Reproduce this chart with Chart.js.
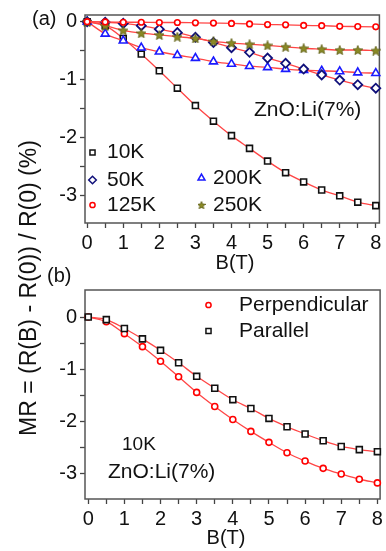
<!DOCTYPE html>
<html>
<head>
<meta charset="utf-8">
<script src="https://cdn.jsdelivr.net/npm/chart.js@4.4.1/dist/chart.umd.min.js"></script>
<style>
body{margin:0;background:#fff;width:386px;height:551px;overflow:hidden;position:relative;font-family:"Liberation Sans",Arial,sans-serif}
canvas{position:absolute;left:0}
#cA{top:0}
#cB{top:275px}
.lbl{position:absolute;color:#111;white-space:nowrap;line-height:1}
#ytitle{left:28px;top:288px;font-size:23px;transform:translate(-50%,-50%) rotate(-90deg)}
</style>
</head>
<body>

<canvas id="cA" width="386" height="275"></canvas>
<canvas id="cB" width="386" height="276"></canvas>

<div class="lbl" id="ytitle">MR = (R(B) - R(0)) / R(0) (%)</div>
<div class="lbl" style="left:32px;top:8px;font-size:20px">(a)</div>
<div class="lbl" style="left:47px;top:265px;font-size:20px">(b)</div>

<script>

/* ---------------- DATA ---------------- */

const fieldT = [0,0.5,1,1.5,2,2.5,3,3.5,4,4.5,5,5.5,6,6.5,7,7.5,8]

const mr10K  = [0,-0.07,-0.29,-0.56,-0.85,-1.15,-1.45,-1.72,-1.97,-2.19,-2.41,-2.61,-2.77,-2.91,-3.01,-3.12,-3.18]
const mr50K  = [0,-0.01,-0.03,-0.07,-0.13,-0.19,-0.27,-0.36,-0.45,-0.53,-0.63,-0.72,-0.82,-0.92,-1.01,-1.09,-1.15]
const mr125K = [0,-0.005,-0.01,-0.01,-0.015,-0.015,-0.02,-0.025,-0.03,-0.04,-0.05,-0.055,-0.065,-0.07,-0.08,-0.085,-0.09]
const mr200K = [0,-0.21,-0.33,-0.45,-0.52,-0.58,-0.63,-0.69,-0.73,-0.77,-0.79,-0.82,-0.84,-0.85,-0.86,-0.88,-0.89]
const mr250K = [0,-0.07,-0.15,-0.2,-0.23,-0.26,-0.29,-0.34,-0.37,-0.39,-0.41,-0.435,-0.46,-0.475,-0.49,-0.49,-0.5]

const mrPerp = [0,-0.09,-0.32,-0.57,-0.85,-1.15,-1.45,-1.72,-1.97,-2.2,-2.41,-2.61,-2.77,-2.91,-3.02,-3.12,-3.19]
const mrPar  = [0,-0.05,-0.22,-0.42,-0.64,-0.88,-1.14,-1.37,-1.59,-1.76,-1.95,-2.11,-2.25,-2.38,-2.49,-2.55,-2.59]

const xTicks = [0,0.5,1,1.5,2,2.5,3,3.5,4,4.5,5,5.5,6,6.5,7,7.5,8]
const yTicks = [-3,-2.5,-2,-1.5,-1,-0.5,0]

const FONT = "'Liberation Sans', Arial, sans-serif"
const FIT_RED = "#ff4545"

/* ---------------- STAR MARKER ---------------- */

function makeStar(size,color){
const c=document.createElement("canvas")
c.width=size; c.height=size
const g=c.getContext("2d")
const cx=size/2, cy=size/2+0.5, R=size/2, r=R*0.45
g.beginPath()
for(let i=0;i<10;i++){
const a=-Math.PI/2+i*Math.PI/5
const rr=i%2?r:R
g.lineTo(cx+rr*Math.cos(a),cy+rr*Math.sin(a))
}
g.closePath()
g.fillStyle=color
g.fill()
g.strokeStyle="#5a5a10"
g.lineWidth=0.8
g.stroke()
return c
}

const star = makeStar(10,"#8a8a25")
const starSmall = makeStar(8,"#8a8a25")

/* ---------------- HELPERS ---------------- */

function series(values,style){
return Object.assign({
data:fieldT.map((t,i)=>({x:t,y:values[i]})),
showLine:true,
borderColor:FIT_RED,
borderWidth:1.3,
cubicInterpolationMode:"monotone",
pointBackgroundColor:"#fff",
pointBorderWidth:1.6,
clip:false
},style)
}

function scales(xmin,xmax,ymin,ymax,yWidth,xHeight){
const common={
grid:{drawOnChartArea:false,drawTicks:true,tickLength:5,tickColor:"#444",tickWidth:1.3},
border:{display:false},
ticks:{
color:"#111",
font:{family:FONT,size:20},
padding:3,
autoSkip:false,
maxRotation:0,
callback:v=>Number.isInteger(v)?String(v):""
}
}
return {
x:Object.assign({},common,{
type:"linear",min:xmin,max:xmax,
afterBuildTicks:s=>{s.ticks=xTicks.map(v=>({value:v}))},
afterFit:s=>{s.height=xHeight}
}),
y:Object.assign({},common,{
type:"linear",min:ymin,max:ymax,
afterBuildTicks:s=>{s.ticks=yTicks.map(v=>({value:v}))},
afterFit:s=>{s.width=yWidth}
})
}
}

/* frame + texts + legend drawn on the canvas */
function decor(items,notes){
return {
id:"decor",
beforeDatasetsDraw(chart){
const {ctx,chartArea:a}=chart
ctx.save()
ctx.strokeStyle="#555"
ctx.lineWidth=1.5
ctx.strokeRect(a.left,a.top,a.right-a.left,a.bottom-a.top)
ctx.restore()
},
afterDraw(chart){
const ctx=chart.ctx
ctx.save()
items.forEach(it=>{
ctx.strokeStyle=it.color
ctx.fillStyle=it.fill||"#fff"
ctx.lineWidth=1.5
Chart.helpers.drawPoint(ctx,{pointStyle:it.style,radius:it.r,borderWidth:1.5,rotation:0},it.mx,it.my)
ctx.fillStyle="#111"
ctx.font=it.size+"px "+FONT
ctx.textBaseline="middle"
ctx.textAlign="left"
ctx.fillText(it.text,it.tx,it.my)
})
notes.forEach(n=>{
ctx.fillStyle="#111"
ctx.font=n.size+"px "+FONT
ctx.textBaseline="middle"
ctx.textAlign=n.align||"left"
ctx.fillText(n.text,n.x,n.y)
})
ctx.restore()
}
}
}

/* ---------------- PANEL (a) ---------------- */

new Chart(document.getElementById("cA"),{
type:"scatter",
data:{
datasets:[
series(mr125K,{label:"125K",pointStyle:"circle",pointRadius:2.8,pointBorderColor:"#ff0000"}),
series(mr250K,{label:"250K",pointStyle:star,pointRadius:5}),
series(mr50K,{label:"50K",pointStyle:"rectRot",pointRadius:4.5,pointBorderColor:"#10107a",pointBorderWidth:1.8}),
series(mr200K,{label:"200K",pointStyle:"triangle",pointRadius:4.6,pointBorderColor:"#1a1aff"}),
series(mr10K,{label:"10K",pointStyle:"rect",pointRadius:4.2,pointBorderColor:"#111"})
]
},
options:{
responsive:false,
animation:false,
layout:{padding:{top:14,right:3,left:0,bottom:0}},
plugins:{legend:{display:false},tooltip:{enabled:false}},
scales:scales(-0.06,8.1,-3.48,0.115,85,52)
},
plugins:[decor(
[
{text:"10K",style:"rect",r:3.6,color:"#111",mx:92.5,my:152.5,tx:107,size:21},
{text:"50K",style:"rectRot",r:3.8,color:"#10107a",mx:92.5,my:180,tx:107,size:21},
{text:"125K",style:"circle",r:2.6,color:"#ff0000",mx:92.5,my:205,tx:107,size:21},
{text:"200K",style:"triangle",r:4,color:"#1a1aff",mx:201.5,my:178,tx:213,size:21},
{text:"250K",style:starSmall,r:4,color:"#8a8a25",mx:201.5,my:205,tx:213,size:21}
],
[
{text:"ZnO:Li(7%)",x:254,y:110,size:21},
{text:"B(T)",x:235,y:263,size:20,align:"center"}
]
)]
})

/* ---------------- PANEL (b) ---------------- */

new Chart(document.getElementById("cB"),{
type:"scatter",
data:{
datasets:[
series(mrPar,{label:"Parallel",pointStyle:"rect",pointRadius:4.2,pointBorderColor:"#111"}),
series(mrPerp,{label:"Perpendicular",pointStyle:"circle",pointRadius:3,pointBorderColor:"#ff0000"})
]
},
options:{
responsive:false,
animation:false,
layout:{padding:{top:12,right:5,left:0,bottom:0}},
plugins:{legend:{display:false},tooltip:{enabled:false}},
scales:scales(-0.09,8.075,-3.5,0.52,85,52)
},
plugins:[decor(
[
{text:"Perpendicular",style:"circle",r:2.6,color:"#ff0000",mx:208.5,my:30,tx:239,size:21},
{text:"Parallel",style:"rect",r:3.6,color:"#111",mx:208.5,my:56,tx:239,size:21}
],
[
{text:"10K",x:122,y:170,size:19},
{text:"ZnO:Li(7%)",x:108,y:197,size:21},
{text:"B(T)",x:226,y:263,size:20,align:"center"}
]
)]
})

</script>
</body>
</html>
